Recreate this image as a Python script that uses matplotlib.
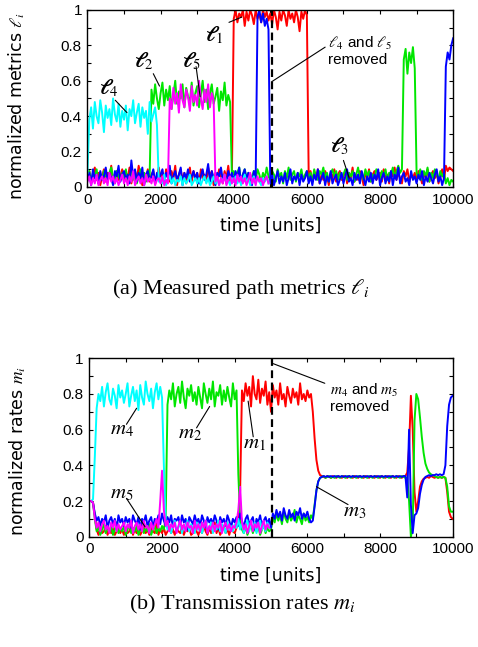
import numpy as np
import matplotlib
matplotlib.use("Agg")
import matplotlib.pyplot as plt
from matplotlib.ticker import MultipleLocator, FormatStrFormatter

plt.rcParams["mathtext.fontset"] = "stix"
plt.rcParams["font.family"] = "Liberation Sans"

nan = np.nan

# sampling grid of the traces: one value every 50 time units
time = np.arange(0, 10001, 50)

# ---- (a) measured path metrics l_i (each row = 1000 time units) ----
l1 = [0.05, 0.09, 0.02, 0.07, 0.11, 0.04, 0.08, 0.01, 0.06, 0.10, 0.03, 0.08, 0.05, 0.12, 0.02, 0.07, 0.09, 0.04, 0.06, 0.10,
      0.03, 0.08, 0.05, 0.11, 0.02, 0.07, 0.09, 0.04, 0.12, 0.06, 0.01, 0.08, 0.05, 0.10, 0.03, 0.07, 0.09, 0.02, 0.06, 0.11,
      0.04, 0.08, 0.02, 0.10, 0.06, 0.03, 0.09, 0.05, 0.12, 0.01, 0.07, 0.10, 0.04, 0.08, 0.02, 0.06, 0.11, 0.03, 0.09, 0.05,
      0.08, 0.02, 0.10, 0.05, 0.07, 0.03, 0.11, 0.06, 0.09, 0.01, 0.08, 0.04, 0.10, 0.06, 0.02, 0.09, 0.05, 0.12, 0.03, 0.07,
      0.95, 1.00, 0.93, 0.98, 0.96, 1.00, 0.91, 0.99, 0.94, 1.00, 0.97, 0.92, 1.00, 0.95, 0.98, 0.93, 1.00, 0.96, 0.99, 0.94,
      0.98, 0.92, 1.00, 0.96, 0.89, 0.99, 0.94, 1.00, 0.97, 0.91, 1.00, 0.95, 0.98, 0.93, 1.00, 0.96, 0.88, 0.99, 0.95, 1.00,
      0.97, 0.06, 0.09, 0.03, 0.08, 0.05, 0.10, 0.02, 0.07, 0.04, 0.09, 0.06, 0.01, 0.08, 0.05, 0.10, 0.03, 0.07, 0.09, 0.04,
      0.06, 0.09, 0.02, 0.08, 0.05, 0.11, 0.03, 0.07, 0.04, 0.09, 0.06, 0.01, 0.08, 0.05, 0.10, 0.03, 0.07, 0.09, 0.04, 0.06,
      0.08, 0.03, 0.10, 0.05, 0.07, 0.02, 0.09, 0.06, 0.11, 0.04, 0.08, 0.05, 0.02, 0.09, 0.06, 0.10, 0.03, 0.07, 0.05, 0.08,
      0.04, 0.09, 0.06, 0.02, 0.08, 0.05, 0.10, 0.03, 0.07, 0.09, 0.05, 0.08, 0.02, 0.06, 0.10, 0.04, 0.12, 0.09, 0.11, 0.10,
      0.09]
l2 = [0.06, 0.09, 0.03, 0.08, 0.05, 0.10, 0.02, 0.07, 0.04, 0.09, 0.06, 0.03, 0.08, 0.11, 0.05, 0.02, 0.09, 0.06, 0.04, 0.08,
      0.05, 0.10, 0.03, 0.07, 0.09, 0.04, 0.08, 0.02, 0.06, 0.10, 0.05, 0.08, 0.03, 0.09, 0.06, 0.55, 0.47, 0.58, 0.50, 0.44,
      0.53, 0.59, 0.46, 0.55, 0.49, 0.57, 0.44, 0.52, 0.60, 0.47, 0.54, 0.50, 0.58, 0.45, 0.56, 0.51, 0.48, 0.59, 0.46, 0.53,
      0.57, 0.45, 0.52, 0.60, 0.48, 0.55, 0.44, 0.53, 0.58, 0.47, 0.51, 0.56, 0.43, 0.54, 0.49, 0.59, 0.46, 0.52, 0.48, 0.06,
      0.09, 0.04, 0.08, 0.11, 0.03, 0.07, 0.10, 0.05, 0.08, 0.02, 0.06, 0.09, 0.04, 0.10, 0.07, 0.03, 0.08, 0.05, 0.11, 0.06,
      0.04, 0.09, 0.07, 0.03, 0.10, 0.06, 0.08, 0.02, 0.09, 0.05, 0.11, 0.04, 0.07, 0.09, 0.03, 0.08, 0.06, 0.10, 0.04, 0.07,
      0.09, 0.05, 0.08, 0.03, 0.10, 0.06, 0.04, 0.09, 0.07, 0.11, 0.05, 0.08, 0.03, 0.07, 0.10, 0.06, 0.09, 0.04, 0.08, 0.05,
      0.07, 0.10, 0.04, 0.08, 0.06, 0.09, 0.03, 0.07, 0.11, 0.05, 0.08, 0.04, 0.10, 0.06, 0.09, 0.03, 0.07, 0.05, 0.10, 0.08,
      0.05, 0.09, 0.06, 0.10, 0.04, 0.08, 0.07, 0.11, 0.05, 0.09, 0.12, 0.08, 0.10, 0.72, 0.78, 0.64, 0.76, 0.70, 0.79, 0.67,
      0.08, 0.05, 0.10, 0.04, 0.09, 0.06, 0.11, 0.03, 0.08, 0.05, 0.10, 0.07, 0.04, 0.09, 0.06, 0.08, 0.02, 0.05, 0.01, 0.04,
      0.03]
l3 = [0.04, 0.08, 0.01, 0.10, 0.05, 0.07, 0.02, 0.09, 0.04, 0.06, 0.11, 0.03, 0.08, 0.05, 0.01, 0.09, 0.06, 0.12, 0.03, 0.07,
      0.09, 0.04, 0.07, 0.02, 0.15, 0.06, 0.10, 0.03, 0.08, 0.05, 0.11, 0.01, 0.07, 0.09, 0.04, 0.06, 0.10, 0.02, 0.08, 0.05,
      0.07, 0.10, 0.03, 0.08, 0.05, 0.12, 0.02, 0.06, 0.09, 0.04, 0.07, 0.11, 0.01, 0.08, 0.05, 0.10, 0.03, 0.06, 0.09, 0.04,
      0.08, 0.02, 0.06, 0.10, 0.04, 0.07, 0.13, 0.03, 0.09, 0.05, 0.01, 0.08, 0.06, 0.11, 0.04, 0.07, 0.02, 0.09, 0.05, 0.08,
      0.03, 0.09, 0.05, 0.11, 0.02, 0.07, 0.10, 0.04, 0.08, 0.06, 0.01, 0.09, 0.05, 0.96, 1.00, 0.93, 0.98, 0.91, 0.95, 0.89,
      0.02, 0.07, 0.01, 0.05, 0.09, 0.02, 0.06, 0.03, 0.08, 0.01, 0.05, 0.10, 0.02, 0.06, 0.04, 0.08, 0.01, 0.07, 0.03, 0.05,
      0.09, 0.02, 0.06, 0.01, 0.07, 0.04, 0.10, 0.02, 0.05, 0.08, 0.01, 0.06, 0.03, 0.09, 0.02, 0.05, 0.07, 0.01, 0.04, 0.08,
      0.02, 0.06, 0.10, 0.03, 0.05, 0.01, 0.08, 0.04, 0.07, 0.02, 0.09, 0.05, 0.01, 0.06, 0.03, 0.08, 0.02, 0.07, 0.04, 0.10,
      0.01, 0.05, 0.08, 0.02, 0.06, 0.03, 0.09, 0.01, 0.07, 0.04, 0.11, 0.02, 0.06, 0.08, 0.03, 0.05, 0.01, 0.09, 0.04, 0.06,
      0.02, 0.07, 0.04, 0.09, 0.01, 0.06, 0.03, 0.08, 0.05, 0.02, 0.07, 0.10, 0.03, 0.06, 0.01, 0.05, 0.68, 0.76, 0.72, 0.80,
      0.84]
l4 = [0.08, 0.38, 0.45, 0.33, 0.48, 0.40, 0.36, 0.49, 0.42, 0.31, 0.46, 0.39, 0.44, 0.35, 0.50, 0.41, 0.37, 0.47, 0.34, 0.43,
      0.38, 0.46, 0.32, 0.44, 0.40, 0.49, 0.36, 0.42, 0.47, 0.34, 0.45, 0.39, 0.43, 0.30, 0.48, 0.37, 0.41, 0.45, 0.35, 0.03,
      0.05, 0.02, 0.07, 0.01, 0.04, 0.06, 0.02, 0.05, 0.01, 0.04, 0.03, 0.06, 0.01, 0.05, 0.02, 0.04, 0.07, 0.01, 0.03, 0.05,
      0.02, 0.05, 0.01, 0.04, 0.06, 0.02, 0.05, 0.01, 0.03, 0.06, 0.02, 0.04, 0.01, 0.05, 0.03, 0.07, 0.02, 0.04, 0.01, 0.05,
      0.03, 0.06, 0.02, 0.05, 0.01, 0.04, 0.07, 0.02, 0.05, 0.01, 0.04, 0.06, 0.02, 0.05, 0.03, 0.01, 0.05, 0.03, 0.06, 0.02,
      ] + [nan] * 101
l5 = [0.03, 0.06, 0.01, 0.05, 0.02, 0.07, 0.01, 0.04, 0.06, 0.02, 0.05, 0.01, 0.08, 0.03, 0.06, 0.02, 0.05, 0.01, 0.04, 0.07,
      0.02, 0.05, 0.01, 0.06, 0.03, 0.09, 0.01, 0.04, 0.06, 0.02, 0.05, 0.01, 0.07, 0.03, 0.05, 0.02, 0.06, 0.01, 0.04, 0.05,
      0.02, 0.06, 0.01, 0.04, 0.02, 0.50, 0.44, 0.56, 0.47, 0.53, 0.42, 0.58, 0.49, 0.45, 0.55, 0.51, 0.43, 0.57, 0.48, 0.52,
      0.46, 0.60, 0.50, 0.44, 0.55, 0.48, 0.58, 0.45, 0.53, 0.49, 0.03, 0.06, 0.01, 0.05, 0.02, 0.07, 0.01, 0.04, 0.06, 0.02,
      0.05, 0.01, 0.07, 0.03, 0.06, 0.02, 0.05, 0.01, 0.04, 0.08, 0.02, 0.05, 0.01, 0.06, 0.03, 0.05, 0.01, 0.04, 0.06, 0.02,
      ] + [nan] * 101

# ---- (b) transmission rates m_i ----
m1 = [0.20, 0.20, 0.19, 0.12, 0.04, 0.01, 0.05, 0.02, 0.03, 0.06, 0.01, 0.04, 0.02, 0.05, 0.01, 0.03, 0.06, 0.02, 0.04, 0.01,
      0.05, 0.02, 0.03, 0.07, 0.01, 0.04, 0.02, 0.05, 0.01, 0.03, 0.06, 0.02, 0.04, 0.01, 0.05, 0.03, 0.02, 0.08, 0.01, 0.04,
      0.02, 0.05, 0.01, 0.03, 0.06, 0.02, 0.04, 0.01, 0.05, 0.03, 0.02, 0.06, 0.01, 0.04, 0.03, 0.05, 0.01, 0.02, 0.07, 0.03,
      0.01, 0.04, 0.02, 0.06, 0.03, 0.01, 0.05, 0.02, 0.04, 0.08, 0.02, 0.05, 0.01, 0.03, 0.06, 0.02, 0.04, 0.01, 0.05, 0.03,
      0.02, 0.05, 0.08, 0.26, 0.82, 0.76, 0.86, 0.79, 0.84, 0.73, 0.90, 0.80, 0.77, 0.88, 0.75, 0.83, 0.79, 0.87, 0.74, 0.81,
      0.70, 0.85, 0.78, 0.82, 0.74, 0.86, 0.77, 0.80, 0.73, 0.84, 0.79, 0.75, 0.83, 0.78, 0.81, 0.74, 0.86, 0.77, 0.80, 0.76,
      0.82, 0.78, 0.80, 0.70, 0.55, 0.43, 0.37, 0.345, 0.34, 0.335, 0.33, 0.34, 0.335, 0.33, 0.34, 0.335, 0.33, 0.34, 0.335, 0.33,
      0.34, 0.335, 0.33, 0.34, 0.335, 0.33, 0.34, 0.335, 0.33, 0.34, 0.335, 0.33, 0.34, 0.335, 0.33, 0.34, 0.335, 0.33, 0.34, 0.335,
      0.33, 0.34, 0.335, 0.33, 0.34, 0.335, 0.33, 0.34, 0.335, 0.33, 0.34, 0.335, 0.33, 0.34, 0.34, 0.36, 0.50, 0.79, 0.60, 0.25,
      0.14, 0.20, 0.28, 0.31, 0.325, 0.33, 0.335, 0.33, 0.34, 0.335, 0.33, 0.335, 0.33, 0.335, 0.33, 0.335, 0.33, 0.25, 0.14, 0.11,
      0.10]
m2 = [0.20, 0.20, 0.19, 0.10, 0.03, 0.06, 0.01, 0.04, 0.07, 0.02, 0.05, 0.03, 0.06, 0.01, 0.04, 0.08, 0.02, 0.05, 0.03, 0.06,
      0.01, 0.04, 0.07, 0.02, 0.05, 0.03, 0.06, 0.01, 0.04, 0.08, 0.02, 0.05, 0.03, 0.07, 0.01, 0.04, 0.06, 0.02, 0.05, 0.03,
      0.06, 0.04, 0.10, 0.74, 0.82, 0.77, 0.86, 0.73, 0.80, 0.84, 0.75, 0.87, 0.78, 0.72, 0.83, 0.79, 0.85, 0.76, 0.81, 0.74,
      0.84, 0.78, 0.72, 0.86, 0.80, 0.75, 0.83, 0.77, 0.87, 0.73, 0.81, 0.79, 0.85, 0.74, 0.82, 0.76, 0.84, 0.78, 0.73, 0.86,
      0.77, 0.82, 0.35, 0.10, 0.04, 0.02, 0.06, 0.01, 0.04, 0.07, 0.02, 0.05, 0.03, 0.06, 0.01, 0.04, 0.07, 0.02, 0.05, 0.03,
      0.04, 0.11, 0.08, 0.13, 0.09, 0.12, 0.07, 0.14, 0.10, 0.08, 0.13, 0.09, 0.11, 0.15, 0.08, 0.12, 0.10, 0.07, 0.13, 0.09,
      0.11, 0.08, 0.12, 0.10, 0.18, 0.26, 0.31, 0.33, 0.335, 0.34, 0.33, 0.335, 0.34, 0.33, 0.335, 0.33, 0.34, 0.335, 0.33, 0.34,
      0.335, 0.33, 0.34, 0.335, 0.33, 0.34, 0.335, 0.33, 0.34, 0.335, 0.33, 0.34, 0.335, 0.33, 0.34, 0.335, 0.33, 0.34, 0.335, 0.33,
      0.34, 0.335, 0.33, 0.34, 0.335, 0.33, 0.34, 0.335, 0.33, 0.34, 0.335, 0.33, 0.34, 0.335, 0.33, 0.33, 0.20, 0.00, 0.05, 0.65,
      0.80, 0.77, 0.67, 0.56, 0.47, 0.41, 0.38, 0.36, 0.35, 0.345, 0.34, 0.335, 0.33, 0.335, 0.33, 0.335, 0.33, 0.28, 0.17, 0.14,
      0.14]
m3 = [0.20, 0.20, 0.19, 0.13, 0.09, 0.11, 0.06, 0.10, 0.08, 0.12, 0.05, 0.09, 0.11, 0.07, 0.10, 0.04, 0.12, 0.08, 0.10, 0.06,
      0.11, 0.08, 0.10, 0.05, 0.12, 0.09, 0.07, 0.11, 0.04, 0.10, 0.08, 0.12, 0.06, 0.09, 0.11, 0.05, 0.10, 0.08, 0.12, 0.07,
      0.13, 0.09, 0.06, 0.11, 0.08, 0.12, 0.05, 0.10, 0.09, 0.11, 0.06, 0.12, 0.08, 0.10, 0.04, 0.11, 0.09, 0.07, 0.12, 0.08,
      0.10, 0.06, 0.12, 0.09, 0.05, 0.11, 0.08, 0.10, 0.07, 0.12, 0.09, 0.04, 0.11, 0.08, 0.10, 0.06, 0.12, 0.09, 0.05, 0.10,
      0.08, 0.11, 0.06, 0.13, 0.09, 0.05, 0.10, 0.12, 0.07, 0.09, 0.11, 0.04, 0.10, 0.08, 0.12, 0.06, 0.09, 0.11, 0.07, 0.10,
      0.05, 0.13, 0.10, 0.15, 0.11, 0.14, 0.09, 0.16, 0.12, 0.10, 0.15, 0.11, 0.13, 0.09, 0.14, 0.12, 0.16, 0.10, 0.13, 0.11,
      0.14, 0.10, 0.08, 0.09, 0.17, 0.26, 0.31, 0.33, 0.335, 0.34, 0.335, 0.34, 0.335, 0.34, 0.335, 0.34, 0.335, 0.34, 0.335, 0.34,
      0.335, 0.34, 0.335, 0.34, 0.335, 0.34, 0.335, 0.34, 0.335, 0.34, 0.335, 0.34, 0.335, 0.34, 0.335, 0.34, 0.335, 0.34, 0.335, 0.34,
      0.335, 0.34, 0.335, 0.34, 0.335, 0.34, 0.335, 0.34, 0.335, 0.34, 0.335, 0.34, 0.335, 0.34, 0.34, 0.22, 0.60, 0.18, 0.02, 0.12,
      0.13, 0.16, 0.24, 0.29, 0.32, 0.335, 0.34, 0.345, 0.34, 0.345, 0.345, 0.35, 0.345, 0.35, 0.345, 0.35, 0.40, 0.62, 0.74, 0.78,
      0.79]
m4 = [0.20, 0.20, 0.21, 0.45, 0.72, 0.80, 0.76, 0.84, 0.73, 0.81, 0.86, 0.77, 0.74, 0.83, 0.79, 0.72, 0.85, 0.78, 0.82, 0.75,
      0.80, 0.86, 0.73, 0.79, 0.84, 0.76, 0.82, 0.71, 0.85, 0.78, 0.74, 0.87, 0.80, 0.76, 0.83, 0.72, 0.81, 0.86, 0.77, 0.84,
      0.78, 0.40, 0.08, 0.04, 0.07, 0.02, 0.06, 0.09, 0.03, 0.05, 0.08, 0.02, 0.06, 0.04, 0.09, 0.03, 0.07, 0.05, 0.02, 0.08,
      0.04, 0.07, 0.02, 0.06, 0.09, 0.03, 0.05, 0.08, 0.02, 0.06, 0.04, 0.09, 0.03, 0.07, 0.05, 0.02, 0.08, 0.04, 0.06, 0.03,
      0.07, 0.05, 0.10, 0.04, 0.08, 0.02, 0.06, 0.09, 0.03, 0.07, 0.05, 0.08, 0.02, 0.06, 0.09, 0.04, 0.07, 0.03, 0.08, 0.05,
      ] + [nan] * 101
m5 = [0.20, 0.20, 0.19, 0.10, 0.05, 0.08, 0.03, 0.07, 0.09, 0.04, 0.06, 0.02, 0.08, 0.05, 0.09, 0.03, 0.07, 0.04, 0.06, 0.08,
      0.03, 0.07, 0.05, 0.09, 0.02, 0.06, 0.08, 0.04, 0.07, 0.03, 0.09, 0.05, 0.06, 0.02, 0.08, 0.04, 0.07, 0.10, 0.05, 0.20,
      0.37, 0.15, 0.06, 0.09, 0.03, 0.07, 0.05, 0.08, 0.02, 0.06, 0.09, 0.04, 0.07, 0.03, 0.08, 0.05, 0.06, 0.02, 0.09, 0.04,
      0.07, 0.03, 0.08, 0.05, 0.09, 0.02, 0.06, 0.04, 0.08, 0.03, 0.07, 0.05, 0.09, 0.02, 0.06, 0.08, 0.04, 0.07, 0.03, 0.06,
      0.05, 0.08, 0.15, 0.28, 0.08, 0.04, 0.07, 0.02, 0.06, 0.09, 0.03, 0.07, 0.05, 0.08, 0.02, 0.06, 0.09, 0.04, 0.07, 0.05,
      ] + [nan] * 101

t_removed = 5040  # l4/m4 and l5/m5 removed

colors = ["#ff0000", "#00e600", "#0000ff", "#00ffff", "#ff00ff"]

# labels: (text, text position, leader start, leader end)
labels_a = [
    (r"$\boldsymbol{\ell}_1$", (3480, 0.86), (3870, 0.93), (4220, 0.96)),
    (r"$\boldsymbol{\ell}_2$", (1530, 0.71), (1800, 0.64), (1970, 0.57)),
    (r"$\boldsymbol{\ell}_5$", (2850, 0.71), (2970, 0.68), (3080, 0.51)),
    (r"$\boldsymbol{\ell}_4$", (570, 0.56), (760, 0.49), (1080, 0.42)),
    (r"$\boldsymbol{\ell}_3$", (6900, 0.23), (7000, 0.15), (7160, 0.05)),
]
labels_b = [
    (r"$m_4$", (890, 0.60), (1020, 0.63), (1300, 0.72)),
    (r"$m_2$", (2760, 0.58), (2950, 0.61), (3310, 0.73)),
    (r"$m_1$", (4530, 0.52), (4510, 0.56), (4370, 0.76)),
    (r"$m_5$", (890, 0.24), (1020, 0.215), (1530, 0.056)),
    (r"$m_3$", (7300, 0.14), (7120, 0.18), (6250, 0.28)),
]

fig = plt.figure(figsize=(4.78, 6.47), dpi=100)
ax_a = fig.add_axes([0.183, 0.711, 0.765, 0.2736])
ax_b = fig.add_axes([0.187, 0.1705, 0.760, 0.2757])


def style_axes(ax, ylabel, ylab_x, ylab_y):
    ax.set_xlim(0, 10000)
    ax.set_ylim(0, 1)
    ax.xaxis.set_major_locator(MultipleLocator(2000))
    ax.xaxis.set_minor_locator(MultipleLocator(1000))
    ax.yaxis.set_major_locator(MultipleLocator(0.2))
    ax.yaxis.set_minor_locator(MultipleLocator(0.1))
    ax.yaxis.set_major_formatter(FormatStrFormatter("%g"))
    ax.tick_params(which="both", direction="in", top=True, right=True,
                   length=3, width=0.8, labelsize=11, pad=4)
    for sp in ax.spines.values():
        sp.set_linewidth(1.0)
    ax.set_xlabel("time [units]", family="DejaVu Sans", fontsize=12.5)
    ax.xaxis.set_label_coords(0.5, -0.168)
    ax.set_ylabel(ylabel, family="DejaVu Sans", fontsize=12.5)
    ax.yaxis.set_label_coords(ylab_x, ylab_y)


for ax, series in [(ax_a, [l1, l2, l3, l4, l5]), (ax_b, [m1, m2, m3, m4, m5])]:
    for vals, c in zip(series, colors):
        ax.plot(time, vals, color=c, lw=1.4)
    ax.axvline(t_removed, color="black", lw=1.6, dashes=(3.5, 2))

style_axes(ax_a, r"normalized metrics $\ell_i$", -0.165, 0.46)
style_axes(ax_b, r"normalized rates $m_i$", -0.17, 0.48)

for ax, labels in [(ax_a, labels_a), (ax_b, labels_b)]:
    for txt, pos, p0, p1 in labels:
        ax.text(pos[0], pos[1], txt, fontsize=15, ha="center", va="center")
        ax.annotate("", xy=p1, xytext=p0,
                    arrowprops=dict(arrowstyle="-", lw=0.8, color="black",
                                    shrinkA=0, shrinkB=0))

ax_a.text(6580, 0.77, "$\\ell_4$ and $\\ell_5$\nremoved", fontsize=11,
          ha="left", va="center", linespacing=1.1)
ax_a.annotate("", xy=(t_removed, 0.595), xytext=(6500, 0.79),
              arrowprops=dict(arrowstyle="-", lw=0.8, color="black",
                              shrinkA=0, shrinkB=0))
ax_b.text(6620, 0.78, "$m_4$ and $m_5$\nremoved", fontsize=11,
          ha="left", va="center", linespacing=1.1)
ax_b.annotate("", xy=(5060, 0.97), xytext=(6480, 0.86),
              arrowprops=dict(arrowstyle="-", lw=0.8, color="black",
                              shrinkA=0, shrinkB=0))

fig.text(0.504, 0.553, r"(a) Measured path metrics $\ell_i$",
         family="Liberation Serif", fontsize=16, ha="center", va="center")
fig.text(0.506, 0.065, r"(b) Transmission rates $m_i$",
         family="Liberation Serif", fontsize=16, ha="center", va="center")

fig.savefig("out.png", dpi=100)
